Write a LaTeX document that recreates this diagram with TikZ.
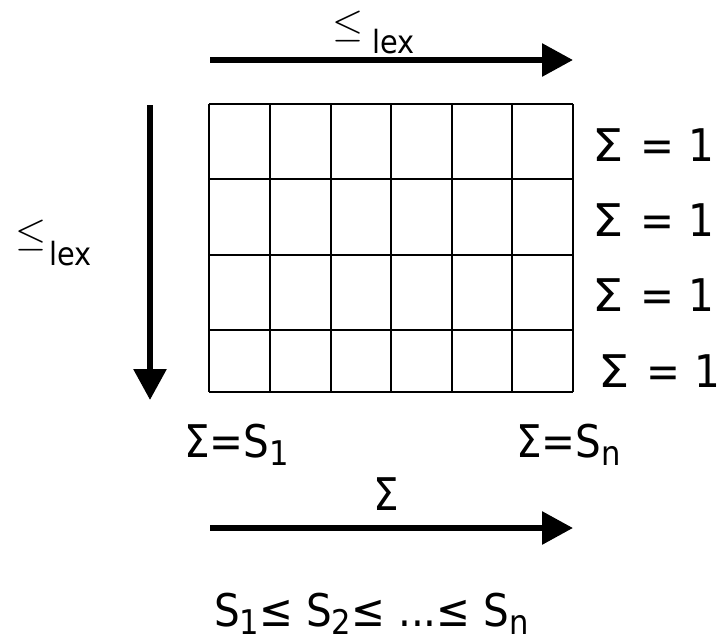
\documentclass[tikz,border=0pt]{standalone}
\usepackage{fontspec}
\usepackage{graphicx}
\setmainfont{DejaVu Sans}[FakeStretch=0.9]
\usetikzlibrary{arrows.meta}
\newcommand{\mysub}[1]{\raisebox{-8pt}{\fontsize{34}{38}\selectfont #1}}
\newcommand{\rowsum}{\scalebox{1.22}[1]{Σ}\hspace{17pt}=\hspace{14pt}1}
\tikzset{
  bigarrow/.style={line width=6pt,-{Triangle[length=31pt,width=32pt]}},
  gridline/.style={line width=1.5pt},
  lbl/.style={inner sep=0pt,anchor=base west,font=\fontsize{45}{50}\selectfont},
  lexlbl/.style={inner sep=0pt,anchor=base west,font=\fontsize{32}{36}\selectfont},
  leqlbl/.style={inner sep=0pt,anchor=base west},
}
\begin{document}
\begin{tikzpicture}[x=1pt,y=-1pt]
\useasboundingbox (0,0) rectangle (720,642);
% grid
\foreach \x in {209,270,331,391,452,512,573} \draw[gridline] (\x,104) -- (\x,392);
\foreach \y in {104,179,255,330,392} \draw[gridline] (209,\y) -- (573,\y);
% arrows
\coordinate (ta) at (210,60); \coordinate (tb) at (573,60);
\coordinate (la) at (150,105); \coordinate (lb) at (150,400);
\coordinate (ba) at (210,528); \coordinate (bb) at (573,528);
\draw[bigarrow] (ta) -- (tb);
\draw[bigarrow] (la) -- (lb);
\draw[bigarrow] (ba) -- (bb);
% top label
\node[leqlbl] (tleq) at (332,37) {\scalebox{4}{$\leq$}};
\node[lexlbl] (tlex) at (372,54) {lex};
% left label
\node[leqlbl] (lleq) at (15,245) {\scalebox{4}{$\leq$}};
\node[lexlbl] (llex) at (49,265) {lex};
% row sums
\node[lbl] (r1) at (592,161) {\rowsum};
\node[lbl] (r2) at (592,236) {\rowsum};
\node[lbl] (r3) at (592,311) {\rowsum};
\node[lbl] (r4) at (598,387) {\rowsum};
% column sums
\node[lbl] (c1) at (184,457) {Σ=S\mysub{1}};
\node[lbl] (cn) at (516,457) {Σ=S\mysub{n}};
\node[lbl,anchor=base] (sig) at (386,510) {Σ};
% bottom
\node[lbl] (ord) at (214,626) {S\mysub{1}≤ S\mysub{2}≤ ...≤ S\mysub{n}};
\end{tikzpicture}
\end{document}
